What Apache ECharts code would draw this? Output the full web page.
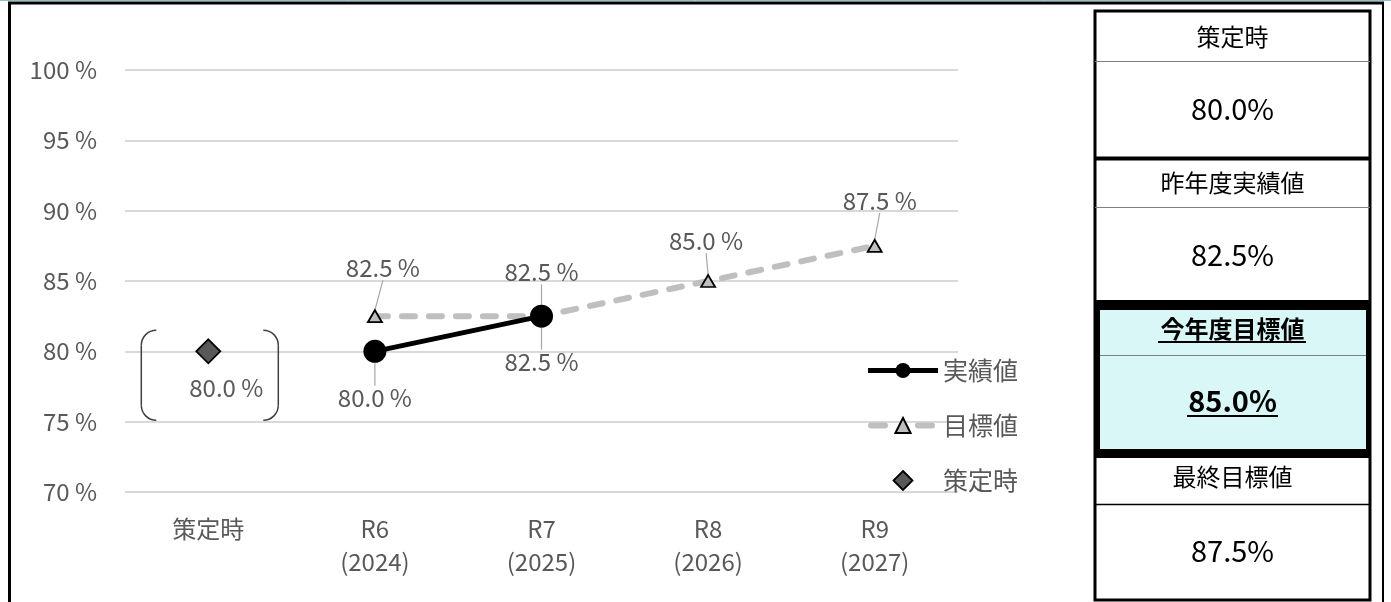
<!DOCTYPE html>
<html>
<head>
<meta charset="utf-8">
<script src="https://cdn.jsdelivr.net/npm/echarts@6/dist/echarts.min.js"></script>
<style>
  html, body { margin: 0; padding: 0; background: #ffffff; }
  #chart { width: 1391px; height: 602px; }
</style>
</head>
<body>
<div id="chart"></div>
<script>
// Category labels along the x axis
const categories = ['策定時', 'R6\n(2024)', 'R7\n(2025)', 'R8\n(2026)', 'R9\n(2027)'];
// Baseline value (at plan adoption)
const baseline = [80.0, null, null, null, null];
// Actual results
const actual = [null, 80.0, 82.5, null, null];
// Targets
const target = [null, 82.5, 82.5, 85.0, 87.5];
// Y axis range and tick step
const yMin = 70, yMax = 100, yStep = 5;
// Series names
const seriesNames = ['実績値', '目標値', '策定時'];
// Summary panel headings
const panelHeads = ['策定時', '昨年度実績値', '今年度目標値', '最終目標値'];

const FONT = '"Noto Sans CJK JP", "Noto Sans", sans-serif';
const GREY_TEXT = '#595959';

const fmt = v => v.toFixed(1) + ' %';
const fmtPanel = v => v.toFixed(1) + '%';

// Panel values derived from the series
const lastActual = actual.filter(v => v != null).slice(-1)[0];
const thisYearTarget = target[actual.lastIndexOf(lastActual) + 1];
const finalTarget = target.filter(v => v != null).slice(-1)[0];
const panelValues = [baseline[0], lastActual, thisYearTarget, finalTarget];

const chart = echarts.init(document.getElementById('chart'), null, { renderer: 'canvas' });

// Per-point label offsets
const targetOffsets = [[0, 0], [8, -24], [0, -20], [-2, -16], [5, -21]];
const actualOffsets = [[0, 0], [0, 18], [0, 17], [0, 0], [0, 0]];

const labelLineStyle = { color: '#A6A6A6', width: 1.2 };
const targetLine = { color: '#BFBFBF', width: 6, type: [13, 14], cap: 'round' };
const actualLine = { color: '#000000', width: 5 };
const diamondIcon = 'path://M0,-1L1,0L0,1L-1,0Z';

const option = {
  animation: false,
  backgroundColor: '#ffffff',
  grid: { left: 125, right: 433, top: 70, bottom: 110, containLabel: false },
  xAxis: {
    type: 'category',
    data: categories,
    boundaryGap: true,
    axisLine: { show: false },
    axisTick: { show: false },
    axisLabel: {
      color: GREY_TEXT, fontFamily: FONT, fontSize: 24, lineHeight: 33,
      margin: 20, verticalAlign: 'top'
    }
  },
  yAxis: {
    type: 'value',
    min: yMin, max: yMax, interval: yStep,
    axisLine: { show: false },
    axisTick: { show: false },
    splitLine: { lineStyle: { color: '#D9D9D9', width: 2 } },
    axisLabel: {
      color: GREY_TEXT, fontFamily: FONT, fontSize: 24, margin: 28,
      formatter: '{value} %'
    }
  },
  legend: {
    orient: 'vertical',
    left: 860,
    top: 353,
    itemWidth: 70,
    itemHeight: 19,
    itemGap: 30,
    symbolKeepAspect: true,
    textStyle: { color: GREY_TEXT, fontFamily: FONT, fontSize: 25 },
    data: [
      { name: seriesNames[0], lineStyle: actualLine },
      { name: seriesNames[1], lineStyle: { color: '#BFBFBF', width: 6, type: [14, 33], dashOffset: -3, cap: 'round' } },
      { name: seriesNames[2], icon: diamondIcon, itemStyle: { color: '#595959', borderColor: '#000000', borderWidth: 1.8 } }
    ]
  },
  series: [
    {
      name: seriesNames[1],
      type: 'line',
      data: target,
      z: 2,
      symbol: 'triangle',
      symbolSize: [14, 12],
      lineStyle: targetLine,
      itemStyle: { color: '#BFBFBF', borderColor: '#000000', borderWidth: 1.8 },
      label: {
        show: true, position: 'top', distance: 5,
        color: GREY_TEXT, fontFamily: FONT, fontSize: 24,
        formatter: p => fmt(p.value)
      },
      labelLine: { show: true, lineStyle: labelLineStyle },
      labelLayout: p => ({ dx: targetOffsets[p.dataIndex][0], dy: targetOffsets[p.dataIndex][1] })
    },
    {
      name: seriesNames[0],
      type: 'line',
      data: actual,
      z: 3,
      symbol: 'circle',
      symbolSize: 23,
      lineStyle: actualLine,
      itemStyle: { color: '#000000' },
      label: {
        show: true, position: 'bottom', distance: 5,
        color: GREY_TEXT, fontFamily: FONT, fontSize: 24,
        formatter: p => fmt(p.value)
      },
      labelLine: { show: true, lineStyle: labelLineStyle },
      labelLayout: p => ({ dx: actualOffsets[p.dataIndex][0], dy: actualOffsets[p.dataIndex][1] })
    },
    {
      name: seriesNames[2],
      type: 'scatter',
      data: baseline,
      z: 3,
      symbol: 'diamond',
      symbolSize: [24, 24],
      itemStyle: { color: '#595959', borderColor: '#000000', borderWidth: 1.8, opacity: 1 },
      label: {
        show: true, position: 'bottom', distance: 5,
        color: GREY_TEXT, fontFamily: FONT, fontSize: 24,
        formatter: p => fmt(p.value)
      },
      labelLayout: { dx: 18, dy: 7 }
    }
  ]
};

chart.setOption(option);

// Rounded brackets framing the baseline point
const pTop = chart.convertToPixel({ xAxisIndex: 0, yAxisIndex: 0 }, [0, 81.5]);
const pBot = chart.convertToPixel({ xAxisIndex: 0, yAxisIndex: 0 }, [0, 75.1]);
const cx = pTop[0], yT = pTop[1], yB = pBot[1];
const xl = cx - 67, xr = cx + 70, r = 15;
const bracketStyle = { stroke: '#404040', lineWidth: 1.5, fill: null };

function arc(x, y, a0, a1) {
  return { type: 'arc', z: 10, shape: { cx: x, cy: y, r: r, startAngle: a0, endAngle: a1, clockwise: true }, style: bracketStyle };
}

// Summary panel geometry
const PX0 = 1095, PX1 = 1370, PCX = (PX0 + PX1) / 2;

function text(x, y, str, size, bold) {
  return {
    type: 'text', x: x, y: y, z: 20,
    style: {
      text: str, fontFamily: FONT, fontSize: size, fontWeight: bold ? 'bold' : 'normal',
      fill: '#000000', align: 'center', verticalAlign: 'middle'
    }
  };
}
function hline(x0, x1, y, color, w, z) {
  return { type: 'line', z: z || 15, shape: { x1: x0, y1: y, x2: x1, y2: y }, style: { stroke: color, lineWidth: w } };
}
function vline(x, y0, y1, color, w, z) {
  return { type: 'line', z: z || 15, shape: { x1: x, y1: y0, x2: x, y2: y1 }, style: { stroke: color, lineWidth: w } };
}

const PI = Math.PI;
const graphics = [
  // outer frame
  hline(0, 1391, 0.5, '#8FBFC0', 1),
  hline(8, 1384, 3, '#000000', 3),
  vline(9.5, 2, 602, '#000000', 3),
  vline(1383, 2, 602, '#000000', 2),
  // brackets
  arc(xl + r, yT + r, PI, 1.5 * PI),
  vline(xl, yT + r, yB - r, '#404040', 1.5, 10),
  arc(xl + r, yB - r, 0.5 * PI, PI),
  arc(xr - r, yT + r, 1.5 * PI, 2 * PI),
  vline(xr, yT + r, yB - r, '#404040', 1.5, 10),
  arc(xr - r, yB - r, 0, 0.5 * PI),
  // panel background
  { type: 'rect', z: 12, shape: { x: PX0, y: 11, width: PX1 - PX0, height: 589 }, style: { fill: '#ffffff', stroke: '#000000', lineWidth: 3 } },
  // highlighted block
  { type: 'rect', z: 13, shape: { x: PX0 - 1, y: 300, width: PX1 - PX0 + 1, height: 158 }, style: { fill: '#000000' } },
  { type: 'rect', z: 14, shape: { x: PX0 + 5, y: 310, width: PX1 - PX0 - 9, height: 139 }, style: { fill: '#DAF7F8' } },
  // row separators
  hline(PX0, PX1, 61.5, '#7F7F7F', 1),
  hline(PX0, PX1, 158.5, '#000000', 4),
  hline(PX0, PX1, 207.5, '#7F7F7F', 1),
  hline(PX0 + 5, PX1 - 4, 355.5, '#7F7F7F', 1),
  hline(PX0, PX1, 504.5, '#000000', 1.5),
  // headings
  text(PCX, 37, panelHeads[0], 24),
  text(PCX, 183, panelHeads[1], 24),
  text(PCX, 329, panelHeads[2], 24, true),
  text(PCX, 477, panelHeads[3], 24),
  // values
  text(PCX, 109, fmtPanel(panelValues[0]), 29),
  text(PCX, 255, fmtPanel(panelValues[1]), 29),
  text(PCX, 401, fmtPanel(panelValues[2]), 29, true),
  text(PCX, 551, fmtPanel(panelValues[3]), 29),
  // underlines for the highlighted entry
  hline(1158, 1306, 342, '#000000', 2, 21),
  hline(1187, 1278, 416, '#000000', 2, 21)
];

chart.setOption({ graphic: graphics });
</script>
</body>
</html>
